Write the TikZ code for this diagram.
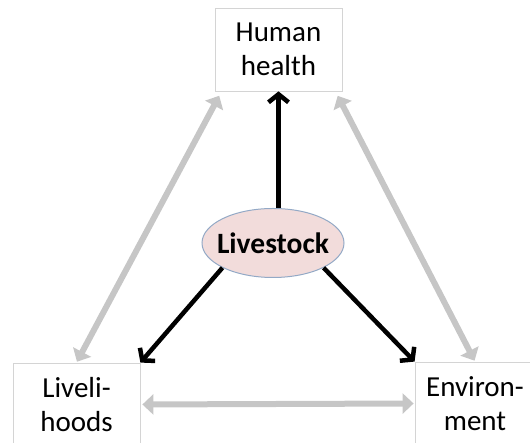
\documentclass[tikz,border=0pt]{standalone}
\usepackage{fontspec}
\setmainfont{Carlito}
\usetikzlibrary{arrows.meta,shapes.geometric}
\definecolor{boxline}{HTML}{D4D4D4}
\definecolor{linkgrey}{HTML}{C6C6C6}
\definecolor{stockfill}{HTML}{F2DCDB}
\definecolor{stockline}{HTML}{93A9C6}
\tikzset{
  topic/.style={draw=boxline,line width=0.8pt,fill=white,minimum width=127pt,minimum height=83pt,
    align=center,font=\fontsize{29}{34}\selectfont,inner sep=0pt},
  link/.style={draw=linkgrey,line width=6pt,{Triangle[length=11pt,width=20pt]}-{Triangle[length=11pt,width=20pt]}},
  impact/.style={draw=black,line width=4.5pt,-{Straight Barb[length=8pt,width=20pt]}}
}
\begin{document}
\begin{tikzpicture}[x=1pt,y=1pt]
            \useasboundingbox (0,0) rectangle (530,443);
            \node[topic] (health) at (278.5,393.5) {Human\\health};
            \node[topic] (liveli) at (76.5,38.5) {Liveli-\\hoods};
            \node[topic,minimum width=120pt] (envir) at (475,39.5) {Environ-\\ment};
            \node[ellipse,draw=stockline,line width=1pt,fill=stockfill,minimum width=142pt,minimum height=69pt,
              inner xsep=-8pt,inner ysep=0pt,font=\fontsize{29.5}{34}\selectfont\bfseries] (stock) at (273,200) {Livestock};
            % grey links between the three
            \draw[link,shorten <=1pt,shorten >=5pt] (liveli.north) -- ([xshift=7pt]health.south west);
            \draw[link,shorten <=1pt,shorten >=5pt] (envir.north) -- ([xshift=-7pt]health.south east);
            \draw[link,shorten <=2pt,shorten >=1pt] (liveli.east) -- (envir.west);
            % livestock effects
            \draw[impact] (health.south |- stock.north) -- (health.south);
            \draw[impact] (stock.south west) -- (liveli.north east);
            \draw[impact] (stock.south east) -- (envir.north west);
\end{tikzpicture}
\end{document}
